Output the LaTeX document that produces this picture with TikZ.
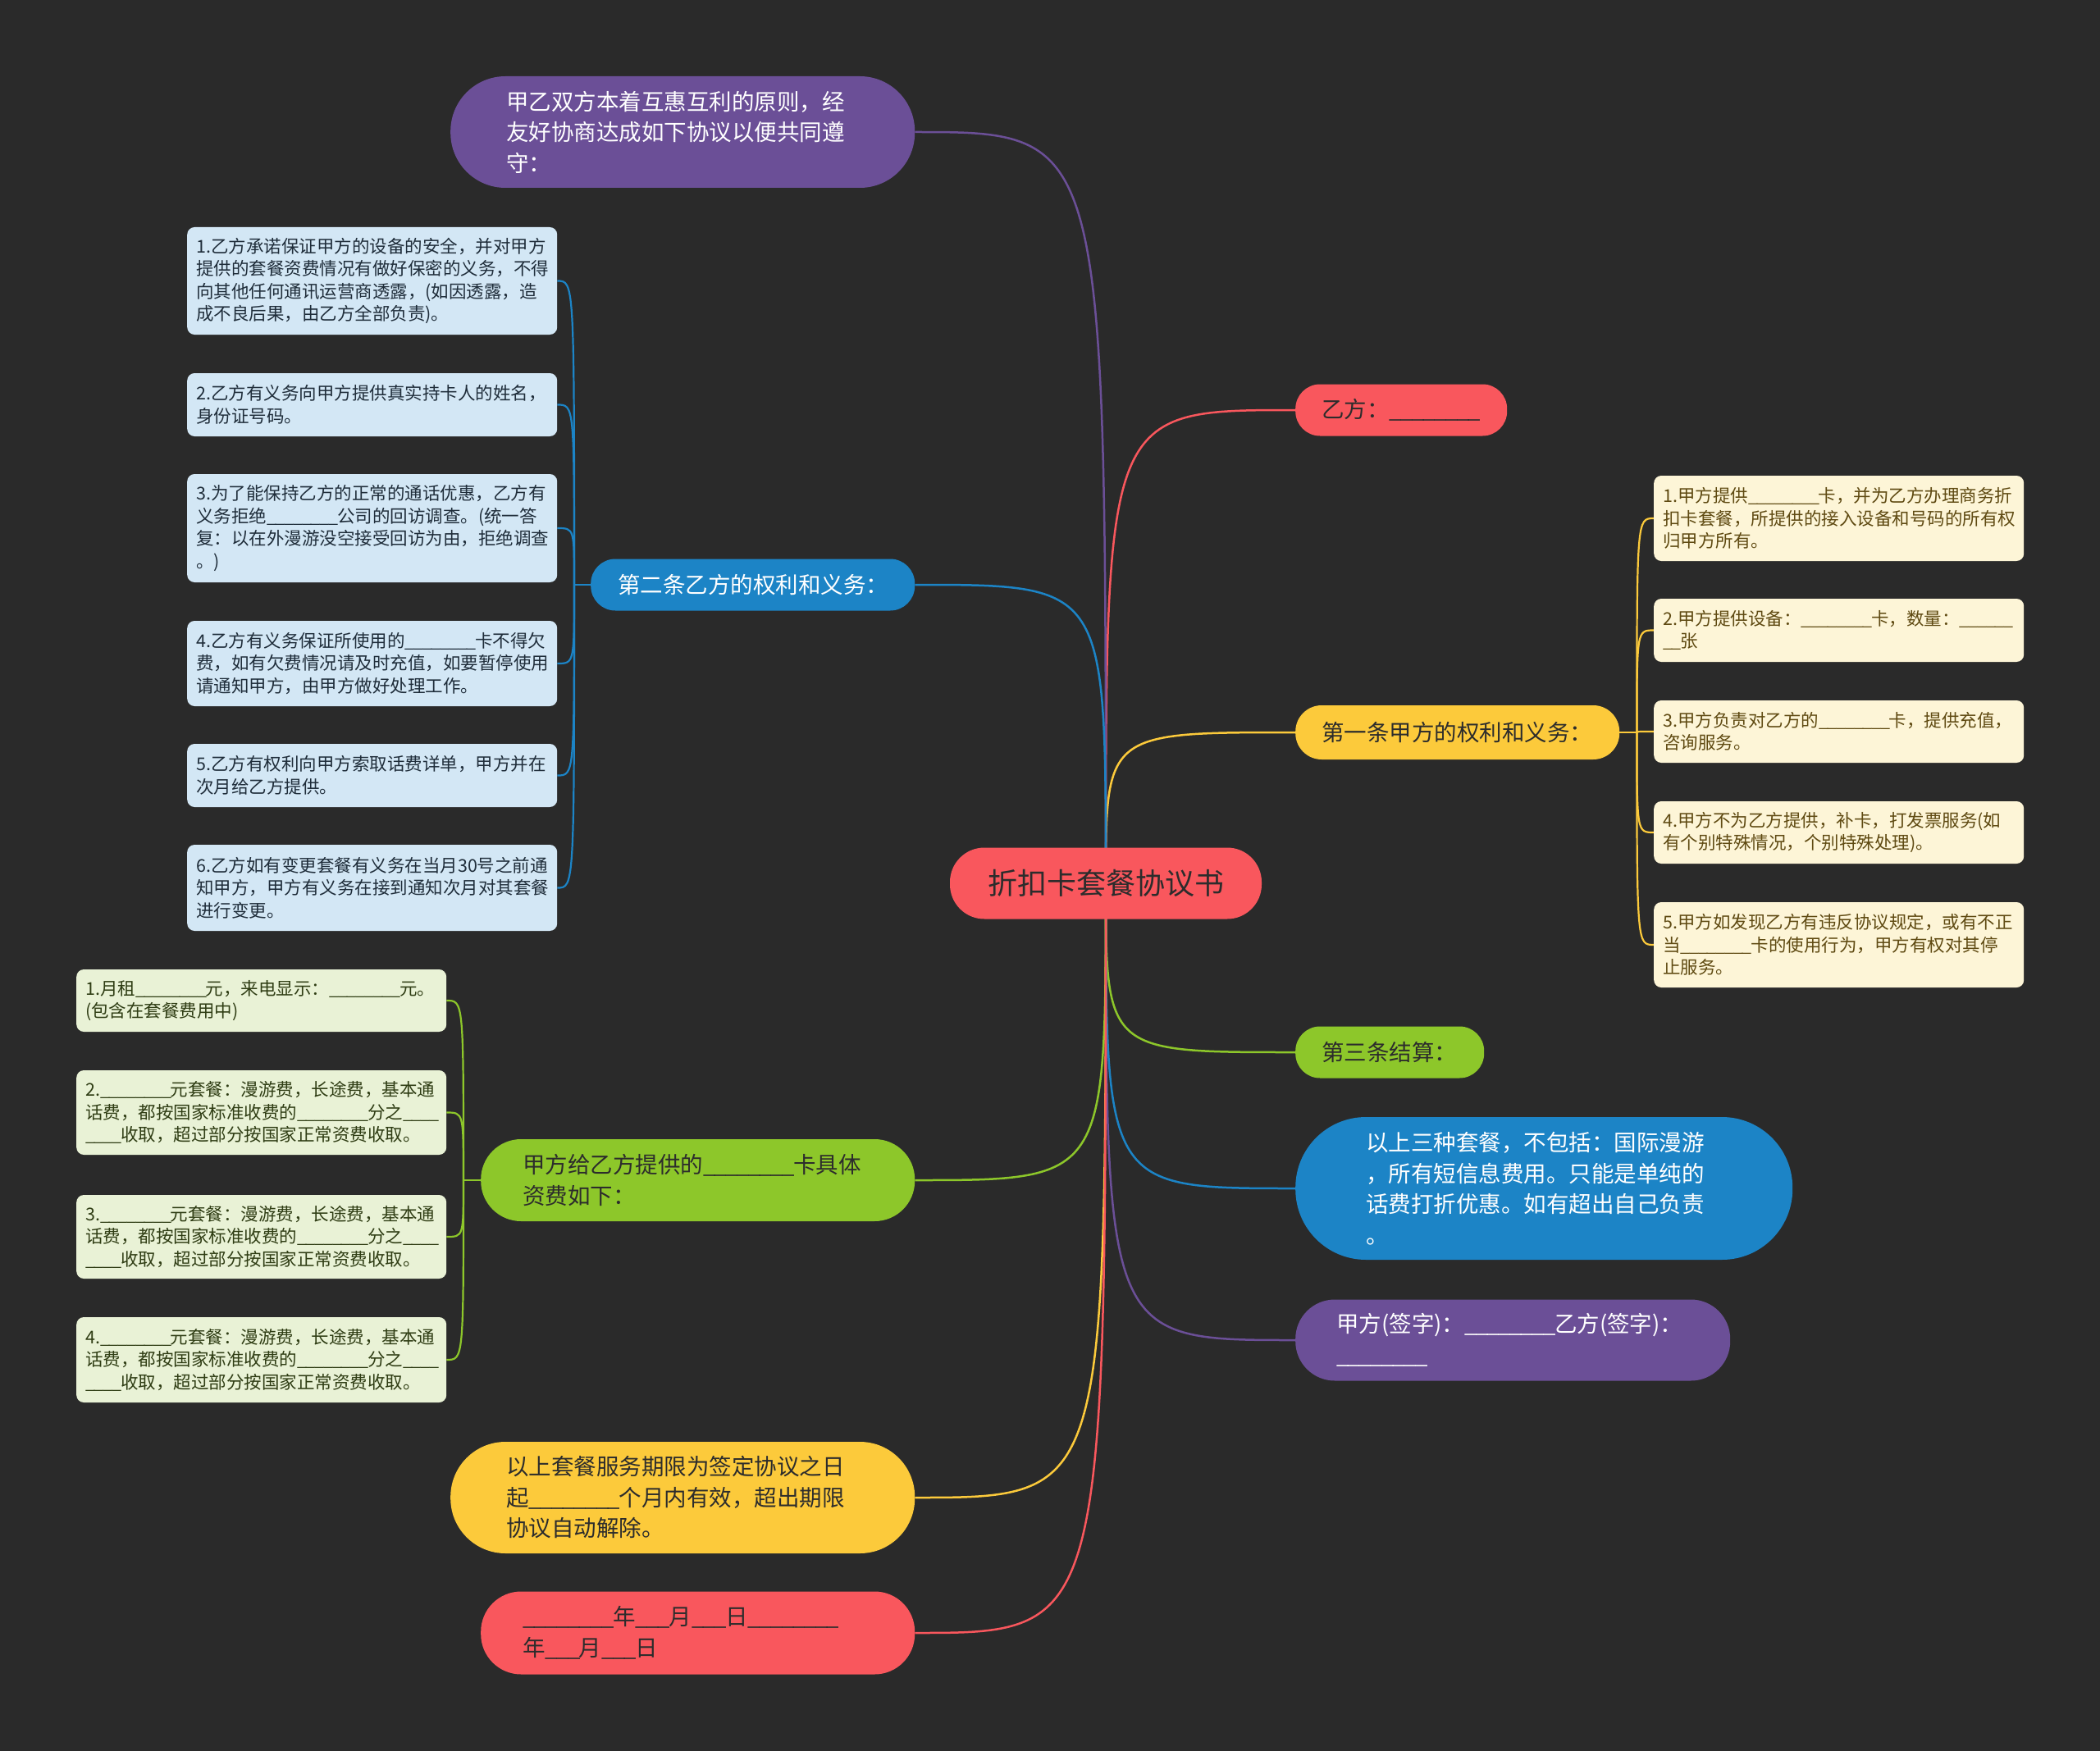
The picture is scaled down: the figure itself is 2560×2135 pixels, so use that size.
\documentclass[tikz,border=0pt]{standalone}
\usepackage{fontspec}
\setmainfont{Noto Sans CJK SC}
\pgfdeclarelayer{bg}
\pgfdeclarelayer{lines}
\pgfsetlayers{bg,lines,main}
\definecolor{bgc}{HTML}{2A2A2A}
\definecolor{cred}{HTML}{F9575D}
\definecolor{cyel}{HTML}{FCCA3B}
\definecolor{cgrn}{HTML}{8DC72A}
\definecolor{cblu}{HTML}{1C84C6}
\definecolor{cpur}{HTML}{6B4F97}
\definecolor{kblu}{HTML}{D3E7F5}
\definecolor{kyel}{HTML}{FDF5D7}
\definecolor{kgrn}{HTML}{E9F2D6}
\definecolor{dtxt}{HTML}{2C2C2C}
\definecolor{tblu}{HTML}{1F2D3A}
\definecolor{tyel}{HTML}{5F4A12}
\definecolor{tgrn}{HTML}{2F3D14}
\newcommand{\usc}{\_\kern-0.06em}
\newcommand{\blk}{\usc\usc\usc\usc\usc\usc\usc\usc}
\begin{document}
\begin{tikzpicture}[x=1pt,y=-1pt,
  mainnode/.style={anchor=west, align=left, inner ysep=0pt, font=\fontsize{27.5}{37.5}\selectfont},
  kid/.style={anchor=west, align=left, text width=429pt, inner xsep=11pt, inner ysep=0pt, rounded corners=9pt, font=\fontsize{21.5}{27.5}\selectfont},
  conn/.style={line width=2.5pt},
  kconn/.style={line width=2.2pt}]
\begin{pgfonlayer}{bg}
\fill[bgc] (0,0) rectangle (2560,2135);
\end{pgfonlayer}
\useasboundingbox (0,0) rectangle (2560,2135);

% center
\node[fill=cred, text=dtxt, minimum width=380pt, minimum height=87pt, rounded corners=42pt, inner sep=0pt, font=\fontsize{36}{44}\selectfont] (c) at (1348,1077) {折扣卡套餐协议书};

% right main nodes
\node[mainnode, fill=cred, text=dtxt, text width=194pt, inner xsep=32pt, minimum height=63pt, rounded corners=30pt] (yf) at (1579,500) {乙方：\blk};
\node[mainnode, fill=cyel, text=dtxt, text width=331pt, inner xsep=32pt, minimum height=66pt, rounded corners=32pt] (t1) at (1579,893) {第一条甲方的权利和义务：};
\node[mainnode, fill=cgrn, text=dtxt, text width=166pt, inner xsep=32pt, minimum height=63pt, rounded corners=30pt] (t3) at (1579,1283) {第三条结算：};
\node[mainnode, fill=cblu, text=white, text width=434pt, inner xsep=86pt, minimum height=174pt, rounded corners=86pt] (bn) at (1579,1449) {以上三种套餐，不包括：国际漫游\\，所有短信息费用。只能是单纯的\\话费打折优惠。如有超出自己负责\\。};
\node[mainnode, fill=cpur, text=white, text width=430pt, inner xsep=50pt, minimum height=99pt, rounded corners=48pt] (sg) at (1579,1634) {甲方(签字)：\blk 乙方(签字)：\\\blk};

% left main nodes
\node[mainnode, fill=cpur, text=white, text width=430pt, inner xsep=68pt, minimum height=136pt, rounded corners=67pt] (tp) at (549,161) {甲乙双方本着互惠互利的原则，经\\友好协商达成如下协议以便共同遵\\守：};
\node[mainnode, fill=cblu, text=white, text width=329pt, inner xsep=33pt, minimum height=63pt, rounded corners=30pt] (t2) at (720,713) {第二条乙方的权利和义务：};
\node[mainnode, fill=cgrn, text=dtxt, text width=427pt, inner xsep=51pt, minimum height=100pt, rounded corners=49pt] (gp) at (586,1439) {甲方给乙方提供的\blk 卡具体\\资费如下：};
\node[mainnode, fill=cyel, text=dtxt, text width=430pt, inner xsep=68pt, minimum height=136pt, rounded corners=67pt] (yb) at (549,1826) {以上套餐服务期限为签定协议之日\\起\blk 个月内有效，超出期限\\协议自动解除。};
\node[mainnode, fill=cred, text=dtxt, text width=427pt, inner xsep=51pt, minimum height=101pt, rounded corners=49pt] (rb) at (586,1991) {\blk 年\usc\usc\usc 月\usc\usc\usc 日\blk\\年\usc\usc\usc 月\usc\usc\usc 日};

% blue children
\node[kid, fill=kblu, text=tblu, minimum height=131pt] (b1) at (228,342.5) {1.乙方承诺保证甲方的设备的安全，并对甲方\\提供的套餐资费情况有做好保密的义务，不得\\向其他任何通讯运营商透露，(如因透露，造\\成不良后果，由乙方全部负责)。};
\node[kid, fill=kblu, text=tblu, minimum height=77pt] (b2) at (228,493.5) {2.乙方有义务向甲方提供真实持卡人的姓名，\\身份证号码。};
\node[kid, fill=kblu, text=tblu, minimum height=132pt] (b3) at (228,644) {3.为了能保持乙方的正常的通话优惠，乙方有\\义务拒绝\blk 公司的回访调查。(统一答\\复：以在外漫游没空接受回访为由，拒绝调查\\。)};
\node[kid, fill=kblu, text=tblu, minimum height=104pt] (b4) at (228,809) {4.乙方有义务保证所使用的\blk 卡不得欠\\费，如有欠费情况请及时充值，如要暂停使用\\请通知甲方，由甲方做好处理工作。};
\node[kid, fill=kblu, text=tblu, minimum height=77pt] (b5) at (228,945.5) {5.乙方有权利向甲方索取话费详单，甲方并在\\次月给乙方提供。};
\node[kid, fill=kblu, text=tblu, minimum height=105pt] (b6) at (228,1082.5) {6.乙方如有变更套餐有义务在当月30号之前通\\知甲方，甲方有义务在接到通知次月对其套餐\\进行变更。};

% yellow children
\node[kid, fill=kyel, text=tyel, minimum height=104pt] (y1) at (2016,632) {1.甲方提供\blk 卡，并为乙方办理商务折\\扣卡套餐，所提供的接入设备和号码的所有权\\归甲方所有。};
\node[kid, fill=kyel, text=tyel, minimum height=77pt] (y2) at (2016,768.5) {2.甲方提供设备：\blk 卡，数量：\usc\usc\usc\usc\usc\usc\\\usc\usc 张};
\node[kid, fill=kyel, text=tyel, minimum height=76pt] (y3) at (2016,892) {3.甲方负责对乙方的\blk 卡，提供充值，\\咨询服务。};
\node[kid, fill=kyel, text=tyel, minimum height=76pt] (y4) at (2016,1015) {4.甲方不为乙方提供，补卡，打发票服务(如\\有个别特殊情况，个别特殊处理)。};
\node[kid, fill=kyel, text=tyel, minimum height=104pt] (y5) at (2016,1152) {5.甲方如发现乙方有违反协议规定，或有不正\\当\blk 卡的使用行为，甲方有权对其停\\止服务。};

% green children
\node[kid, fill=kgrn, text=tgrn, minimum height=76pt] (g1) at (93,1220) {1.月租\blk 元，来电显示：\blk 元。\\(包含在套餐费用中)};
\node[kid, fill=kgrn, text=tgrn, minimum height=103pt] (g2) at (93,1356.5) {2.\blk 元套餐：漫游费，长途费，基本通\\话费，都按国家标准收费的\blk 分之\usc\usc\usc\usc\\\usc\usc\usc\usc 收取，超过部分按国家正常资费收取。};
\node[kid, fill=kgrn, text=tgrn, minimum height=102pt] (g3) at (93,1508) {3.\blk 元套餐：漫游费，长途费，基本通\\话费，都按国家标准收费的\blk 分之\usc\usc\usc\usc\\\usc\usc\usc\usc 收取，超过部分按国家正常资费收取。};
\node[kid, fill=kgrn, text=tgrn, minimum height=104pt] (g4) at (93,1658) {4.\blk 元套餐：漫游费，长途费，基本通\\话费，都按国家标准收费的\blk 分之\usc\usc\usc\usc\\\usc\usc\usc\usc 收取，超过部分按国家正常资费收取。};

\begin{pgfonlayer}{lines}
% main connectors
\draw[conn, cred] (c.center) .. controls (c.center |- yf.west) and (c.center |- yf.west) .. (yf.west);
\draw[conn, cyel] (c.center) .. controls (c.center |- t1.west) and (c.center |- t1.west) .. (t1.west);
\draw[conn, cgrn] (c.center) .. controls (c.center |- t3.west) and (c.center |- t3.west) .. (t3.west);
\draw[conn, cblu] (c.center) .. controls (c.center |- bn.west) and (c.center |- bn.west) .. (bn.west);
\draw[conn, cpur] (c.center) .. controls (c.center |- sg.west) and (c.center |- sg.west) .. (sg.west);
\draw[conn, cpur] (c.center) .. controls (c.center |- tp.east) and (c.center |- tp.east) .. (tp.east);
\draw[conn, cblu] (c.center) .. controls (c.center |- t2.east) and (c.center |- t2.east) .. (t2.east);
\draw[conn, cgrn] (c.center) .. controls (c.center |- gp.east) and (c.center |- gp.east) .. (gp.east);
\draw[conn, cyel] (c.center) .. controls (c.center |- yb.east) and (c.center |- yb.east) .. (yb.east);
\draw[conn, cred] (c.center) .. controls (c.center |- rb.east) and (c.center |- rb.east) .. (rb.east);
% blue children
\draw[kconn, cblu] (t2.west) -- ++(-20,0) coordinate (jb);
\foreach \k in {b1,b2,b3,b4,b5,b6}
  \draw[kconn, cblu] (jb) .. controls (jb |- \k.east) .. (\k.east);
% yellow children
\draw[kconn, cyel] (t1.east) -- ++(21,0) coordinate (jy);
\foreach \k in {y1,y2,y3,y4,y5}
  \draw[kconn, cyel] (jy) .. controls (jy |- \k.west) .. (\k.west);
% green children
\draw[kconn, cgrn] (gp.west) -- ++(-21,0) coordinate (jg);
\foreach \k in {g1,g2,g3,g4}
  \draw[kconn, cgrn] (jg) .. controls (jg |- \k.east) .. (\k.east);
\end{pgfonlayer}
\end{tikzpicture}
\end{document}
